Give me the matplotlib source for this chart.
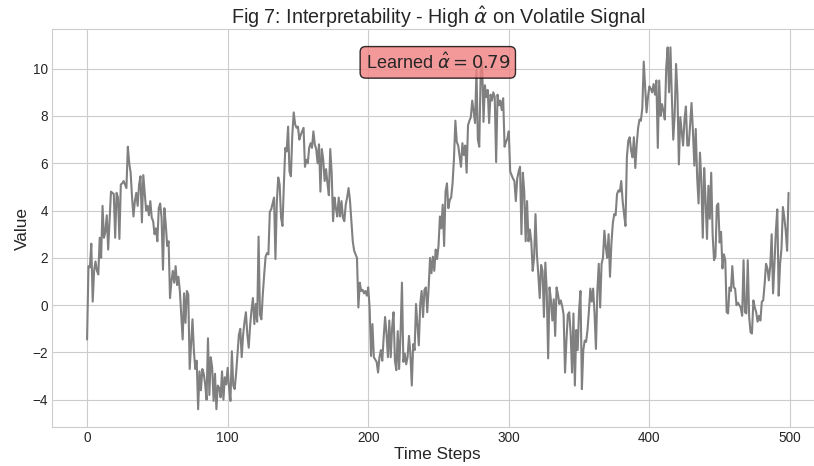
import numpy as np
import matplotlib
matplotlib.use("Agg")
import matplotlib.pyplot as plt
import seaborn as sns

# values, one per time step (500 total)
seg_rise1 = [
    -1.45, 1.65, 1.6, 2.6, 0.15, 1.45, 1.85, 1.45, 1.3, 2.85,
    2.0, 4.2, 2.85, 3.1, 3.8, 2.35, 3.55, 4.8, 4.75, 4.7,
    2.85, 4.75, 4.55, 2.8, 5.1, 5.15, 5.25, 5.1, 4.95, 6.7,
    6.0, 5.6, 4.55, 3.75, 4.4, 4.75, 4.2, 5.1, 5.45, 3.5,
    5.5, 4.75, 4.0, 4.2, 3.8, 4.4, 3.7, 3.55, 3.0, 3.25,
    2.7, 4.1, 4.3, 3.7, 1.5, 4.1, 3.4, 2.5, 2.7, 0.3,
    1.0, 1.45, 0.95, 1.65, 0.85, 1.2, 0.6, -0.4, -1.45, 0.5,
    -0.75, 0.6, 0.45, -2.7, -1.65, -0.6, -1.95, -2.7, -2.35, -4.4,
    -2.8, -3.6, -2.7, -2.9, -3.35, -4.0, -1.4,
]
seg_rise2 = [
    -3.8, -2.2, -2.65, -4.05, -2.9, -4.4, -3.4, -3.5, -3.9, -2.8,
    -4.0, -3.05, -3.35, -2.65, -3.5, -4.05, -1.95, -3.4, -3.55, -2.9,
    -2.1, -1.25, -1.0, -2.2, -1.25, -0.7, -0.3, -1.25, -1.8, -0.85,
    -0.2, 0.3, -0.8, 0.05, -0.7, 2.9, -0.4, -0.6, 0.45, 1.3,
    2.05, 2.2, 2.15, 3.95, 4.05, 4.3, 4.55, 1.95, 4.4, 5.4,
    5.1, 3.7, 3.35, 5.1, 6.65, 6.5, 7.55, 5.65, 5.45, 7.2,
    8.15, 7.65, 7.5, 7.55, 7.0, 7.2, 7.35, 7.5, 5.85, 6.15,
    6.0, 6.65, 6.85, 6.65, 7.35, 6.8, 6.6, 6.0, 6.8, 4.8,
    6.6, 6.15, 5.25, 5.75, 5.15,
]
seg_fall2 = [
    4.65, 6.6, 5.6, 3.55, 4.55, 4.1, 3.75, 4.55, 3.75, 4.4,
    3.7, 3.55, 4.25, 4.55, 4.95, 4.45, 3.55, 2.7, 2.3, 2.15,
    2.0, -0.1, 0.95, 0.6, 0.65, 0.5, 0.6, 0.4, 0.75, -0.1,
    -2.15, -0.8, -2.2, -2.3, -2.4, -2.85, -2.2, -1.9, -2.35, -1.35,
    -0.5, -1.2, -2.2, -0.65, -2.2, -0.95, -0.3, -2.35, -2.75, -1.1,
    -2.7, -1.2, 0.95, -2.4, -2.05, -2.5, -2.2, -1.3, -2.05, -3.4,
    -1.65, -1.9, 0.05, -0.85, -1.7, 0.05, 0.6, -0.5, 0.65, 0.75,
    -0.3, 0.75, 2.0, 1.35, 2.05, 1.45, 2.35, 1.95, 2.5, 3.75,
    3.25, 4.25, 2.5, 4.8, 5.15, 4.1,
]
seg_peak3 = [
    4.45, 4.55, 5.15, 6.2, 7.8, 6.9, 6.75, 6.3, 5.85, 6.85,
    6.35, 6.75, 5.6, 7.6, 7.8, 7.95, 8.65, 8.2, 7.7, 9.95,
    7.0, 6.7, 9.85, 10.3, 7.75, 9.3, 8.8, 9.1, 7.7, 8.9,
    8.65, 9.0, 8.8, 6.05, 8.9, 8.45, 8.65, 8.25, 8.75, 6.7,
    6.9, 7.05, 7.35, 5.65, 5.5, 5.35, 5.25, 4.4, 5.35, 5.65,
    5.85, 3.0, 5.6, 4.8, 2.7, 4.4, 2.7, 3.2, 2.7, 1.45,
    2.0, 3.85, 2.15, 1.3, 0.3, 1.7, 1.45, -0.5, 1.8, 0.6,
    -2.25, 0.75, 0.2, -0.65, 0.25, -1.3, 0.75, 0.45, 0.05, 0.2,
    -0.05, -0.4, -2.85, -1.5, -0.4,
]
seg_rise4 = [
    -0.3, -1.2, -2.85, -0.35, -3.4, -1.05, -1.9, -0.2, 0.6, -3.55,
    -1.9, -1.5, -1.55, -1.05, -0.25, 0.7, 0.15, 0.7, -0.35, -1.85,
    0.6, 1.75, -0.1, 1.75, 2.0, 3.15, 2.45, 2.0, 3.0, 1.2,
    2.6, 3.45, 3.85, 3.8, 4.7, 4.85, 4.8, 5.25, 4.4, 3.85,
    3.35, 6.25, 6.95, 7.1, 6.55, 6.25, 7.1, 5.8, 6.8, 7.5,
    7.85, 7.8, 8.35, 10.3, 9.2, 8.15, 8.8, 9.25, 9.15, 9.0,
    9.35, 8.9, 9.5, 6.65, 9.5, 8.0, 8.5, 8.2, 7.85, 10.05,
    10.9, 9.0, 10.9, 8.8, 7.0, 8.05, 10.2, 8.9, 5.95, 7.95,
    7.35, 6.75, 7.85, 8.4, 6.75,
]
seg_tail = [
    6.75, 7.65, 8.55, 7.35, 5.9, 7.45, 5.4, 4.3, 6.45, 5.25,
    2.85, 5.8, 4.4, 2.8, 5.05, 3.65, 5.6, 3.0, 1.9, 2.05,
    4.2, 4.3, 2.65, 3.1, 1.55, 2.15, 1.9, -0.3, -0.35, 0.75,
    0.6, 1.65, 0.75, 0.7, 0.0, 0.1, 0.0, -0.1, -0.45, 1.9,
    -0.3, -0.35, 1.9, -0.5, -1.15, -1.2, 0.2, -0.1, -0.3, -0.7,
    -0.45, -0.65, 0.15, 0.2, 0.9, 1.75, 1.55, 1.05, 1.65, 3.0,
    0.5, 1.75, 3.15, 4.05, 0.4, 1.75, 2.4, 4.15, 3.7, 3.15,
    2.3, 4.75,
]

signal = np.array(seg_rise1 + seg_rise2 + seg_fall2 + seg_peak3 + seg_rise4 + seg_tail)
steps = np.arange(len(signal))
alpha_hat = 0.79

sns.set_style("whitegrid")
plt.rcParams['font.family'] = ['Liberation Sans', 'DejaVu Sans']

fig = plt.figure(figsize=(8.14, 4.66), dpi=100)
# axes runs a little past the right edge, like the cropped original
ax = fig.add_axes([52 / 814, 38.7 / 466, 771.6 / 814, 398 / 466])

ax.plot(steps, signal, color='gray', linewidth=1.5)

ax.set_title(r"Fig 7: Interpretability - High $\hat{\alpha}$ on Volatile Signal", fontsize=14.2, pad=4)
ax.set_xlabel("Time Steps", fontsize=12.4, labelpad=1)
ax.set_ylabel("Value", fontsize=12.4, labelpad=2)
ax.tick_params(labelsize=9.8, length=0, pad=3)

ax.text(0.5, 0.943, r"Learned $\hat{\alpha} = %.2f$" % alpha_hat, transform=ax.transAxes,
        fontsize=13, ha='center', va='top',
        bbox=dict(boxstyle='round', facecolor='lightcoral', edgecolor='black', alpha=0.8))

fig.savefig("out.png", dpi=100)
